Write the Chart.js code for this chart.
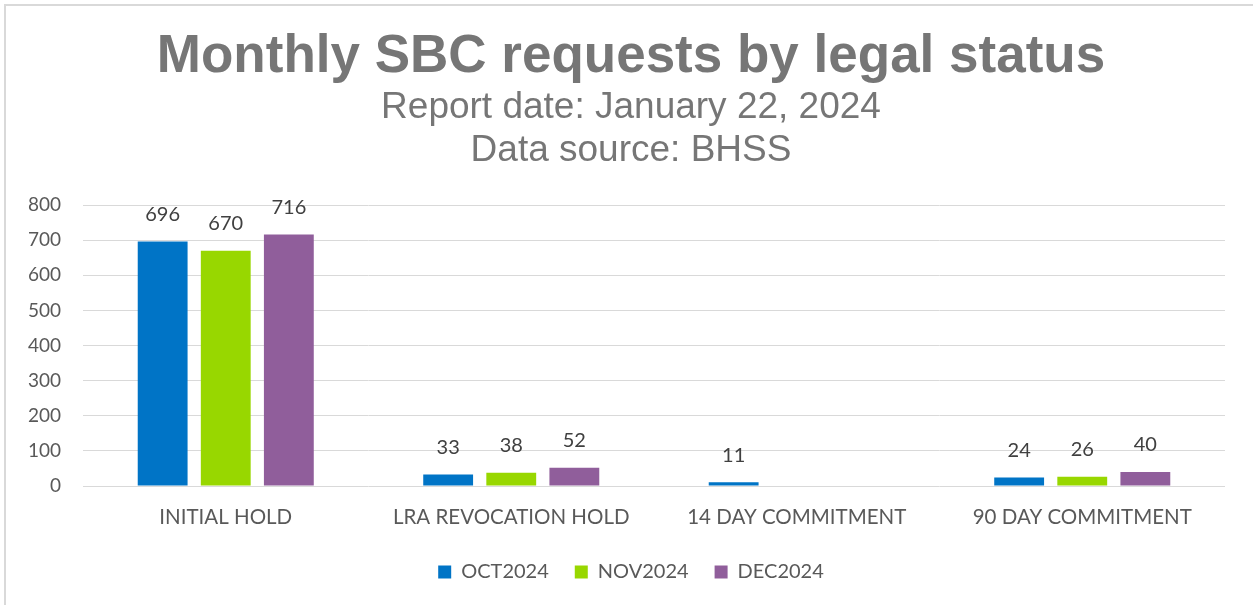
<!DOCTYPE html>
<html>
<head>
<meta charset="utf-8">
<script src="https://cdn.jsdelivr.net/npm/chart.js@4/dist/chart.umd.min.js"></script>
<style>
  html, body { margin: 0; padding: 0; background: #ffffff; overflow: hidden; }
  #frame { position: absolute; left: 4px; top: 4px; width: 1280px; height: 640px; border: 2px solid #d9d9d9; }
  #wrap { position: absolute; left: 0; top: 0; width: 1262px; height: 605px; }
</style>
</head>
<body>
<div id="frame"></div>
<div id="wrap"><canvas id="c" width="1262" height="605"></canvas></div>
<script>
const categories = ['INITIAL HOLD', 'LRA REVOCATION HOLD', '14 DAY COMMITMENT', '90 DAY COMMITMENT'];
const seriesNames = ['OCT2024', 'NOV2024', 'DEC2024'];
const oct2024 = [696, 33, 11, 24];
const nov2024 = [670, 38, null, 26];
const dec2024 = [716, 52, null, 40];
const yMin = 0, yMax = 800, yStep = 100;
const titleText = 'Monthly SBC requests by legal status';
const subtitleLines = ['Report date: January 22, 2024', 'Data source: BHSS'];

const colors = ['#0074C6', '#98D700', '#905E9B'];
const bodyFont = 'Lato, "Noto Sans", sans-serif';

const valueLabels = {
  id: 'valueLabels',
  afterDatasetsDraw(chart) {
    const ctx = chart.ctx;
    ctx.save();
    ctx.font = '20px ' + bodyFont;
    ctx.fillStyle = '#404040';
    ctx.textAlign = 'center';
    ctx.textBaseline = 'middle';
    chart.data.datasets.forEach((ds, i) => {
      const meta = chart.getDatasetMeta(i);
      meta.data.forEach((bar, j) => {
        const v = ds.data[j];
        if (v === null || v === undefined) return;
        ctx.fillText(String(v), bar.x, bar.y - 27);
      });
    });
    ctx.restore();
  }
};

new Chart(document.getElementById('c'), {
  type: 'bar',
  data: {
    labels: categories,
    datasets: [
      { label: seriesNames[0], data: oct2024, backgroundColor: colors[0] },
      { label: seriesNames[1], data: nov2024, backgroundColor: colors[1] },
      { label: seriesNames[2], data: dec2024, backgroundColor: colors[2] }
    ]
  },
  options: {
    responsive: false,
    animation: false,
    devicePixelRatio: 1,
    layout: { padding: { left: 0, right: 0, top: 0, bottom: 13 } },
    datasets: { bar: { categoryPercentage: 0.663, barPercentage: 0.79 } },
    scales: {
      x: {
        grid: { display: false, drawTicks: false },
        border: { display: false },
        ticks: { color: '#595959', font: { family: bodyFont, size: 20.5 }, padding: 19, maxRotation: 0 },
        afterFit(scale) { scale.height = 50; }
      },
      y: {
        min: yMin, max: yMax,
        ticks: { stepSize: yStep, color: '#595959', font: { family: bodyFont, size: 19 }, padding: 22 },
        grid: { color: '#d9d9d9', lineWidth: 1, drawTicks: false },
        border: { display: false },
        afterFit(scale) { scale.width = 83; }
      },
      yRight: {
        position: 'right',
        display: true,
        min: yMin, max: yMax,
        ticks: { display: false },
        grid: { display: false, drawTicks: false },
        border: { display: false },
        afterFit(scale) { scale.width = 37; }
      }
    },
    plugins: {
      title: {
        display: true,
        text: titleText,
        color: '#767676',
        font: { family: '"Liberation Sans", Arial, sans-serif', size: 53, weight: 'bold', lineHeight: 1.0 },
        padding: { top: 31, bottom: 0 }
      },
      subtitle: {
        display: true,
        text: subtitleLines,
        color: '#767676',
        font: { family: '"Liberation Sans", Arial, sans-serif', size: 37, weight: 'normal', lineHeight: 1.15 },
        padding: { top: 3, bottom: 33 }
      },
      legend: {
        position: 'bottom',
        labels: {
          boxWidth: 13, boxHeight: 13, padding: 26,
          color: '#595959',
          font: { family: bodyFont, size: 20 }
        }
      },
      tooltip: { enabled: false }
    }
  },
  plugins: [valueLabels]
});
</script>
</body>
</html>
